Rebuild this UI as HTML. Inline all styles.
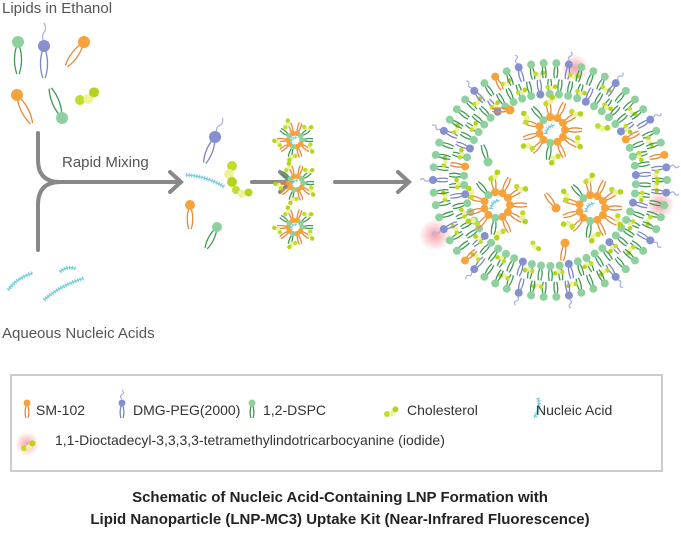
<!DOCTYPE html>
<html><head><meta charset="utf-8"><style>
body{margin:0;width:681px;height:540px;background:#fff;overflow:hidden;font-family:"Liberation Sans",sans-serif}
svg{position:absolute;left:0;top:0}
</style></head><body>
<svg id="s" width="681" height="540" xmlns="http://www.w3.org/2000/svg">
<defs><radialGradient id="glow"><stop offset="0" stop-color="#f48a95" stop-opacity="0.8"/><stop offset="1" stop-color="#f48a95" stop-opacity="0"/></radialGradient></defs>
<g font-family="Liberation Sans, sans-serif" fill="#555" font-size="15">
<text x="2" y="13">Lipids in Ethanol</text>
<text x="62" y="167">Rapid Mixing</text>
<text x="2" y="338">Aqueous Nucleic Acids</text>
</g>
<g fill="none" stroke="#888" stroke-width="4" stroke-linecap="round">
<path d="M38 133 V160 Q38 182 60 182 H180"/>
<path d="M38 250 V205 Q38 182 60 182"/>
<path d="M170 172 L181 182 L170 192"/>
<path d="M252 182 H290 M280 172 L291 182 L280 192"/>
<path d="M335 182 H408 M398 172 L409 182 L398 192"/>
</g>
<rect x="11" y="375" width="651" height="96" fill="#fff" stroke="#ccc" stroke-width="2"/>
<g id="g"></g>
<g font-family="Liberation Sans, sans-serif" fill="#333" font-size="14">
<text x="36" y="415">SM-102</text>
<text x="133" y="415">DMG-PEG(2000)</text>
<text x="263" y="415">1,2-DSPC</text>
<text x="407" y="415">Cholesterol</text>
<text x="536" y="415">Nucleic Acid</text>
<text x="55" y="445">1,1-Dioctadecyl-3,3,3,3-tetramethylindotricarbocyanine (iodide)</text>
</g>
<g font-family="Liberation Sans, sans-serif" fill="#222" font-size="15" font-weight="bold" text-anchor="middle">
<text x="340" y="502">Schematic of Nucleic Acid-Containing LNP Formation with</text>
<text x="340" y="524">Lipid Nanoparticle (LNP-MC3) Uptake Kit (Near-Infrared Fluorescence)</text>
</g>
</svg>
<script>
var g=document.getElementById('g'),out='';
var C={o:['#f7a23a','#e8883a'],b:['#8590cf','#7b86c8'],g:['#8fd19e','#3f9a55']};
function lip(x,y,a,t,L,peg,hr){L=L||20;var c=C[t],dx=Math.cos(a),dy=Math.sin(a),px=-dy,py=dx,w=L*0.2;
var ex=x+dx*L,ey=y+dy*L;
out+='<path d="M'+x+' '+y+' Q'+(x+dx*L*0.5+px*w)+' '+(y+dy*L*0.5+py*w)+' '+(ex+px*1.2)+' '+(ey+py*1.2)+' M'+x+' '+y+' Q'+(x+dx*L*0.5-px*w)+' '+(y+dy*L*0.5-py*w)+' '+(ex-px*1.2)+' '+(ey-py*1.2)+'" fill="none" stroke="'+c[1]+'" stroke-width="1.3"/>';
if(peg){var s=L*0.6;out+='<path d="M'+(x-dx*4)+' '+(y-dy*4)+' q'+(-dx*s/3+px*3)+' '+(-dy*s/3+py*3)+' '+(-dx*s/2)+' '+(-dy*s/2)+' t'+(-dx*s/2)+' '+(-dy*s/2)+'" fill="none" stroke="#a9b0e0" stroke-width="1.2"/>';}
out+='<circle cx="'+x+'" cy="'+y+'" r="'+(hr||(L*0.17+1.5))+'" fill="'+c[0]+'"/>';}
function chol(x,y,a,s){s=s||4;var dx=Math.cos(a),dy=Math.sin(a),cs=['#c2dc2a','#eef29a','#b3d41c'];
for(var i=0;i<3;i++)out+='<circle cx="'+(x+dx*i*s*1.6+(i%2?-dy*s*0.6:0))+'" cy="'+(y+dy*i*s*1.6+(i%2?dx*s*0.6:0))+'" r="'+s+'" fill="'+cs[i]+'"/>';}
function na(x,y,a,L,w){w=w||1;var dx=Math.cos(a),dy=Math.sin(a);var d='M'+x+' '+y+' q'+(dx*L/2+dy*5)+' '+(dy*L/2-dx*5)+' '+(dx*L)+' '+(dy*L);
out+='<path d="'+d+'" fill="none" stroke="#72cdd8" stroke-width="'+(4*w)+'" stroke-dasharray="1 1.6"/><path d="'+d+'" fill="none" stroke="#72cdd8" stroke-width="'+(1.3*w)+'"/>';}
function glow(x,y,r){out+='<circle cx="'+x+'" cy="'+y+'" r="'+r+'" fill="url(#glow)"/>';}
var P=Math.PI;
lip(18,42,P/2,'g',32,0,6);lip(44,46,P/2,'b',32,1,6);lip(84,42,P*0.7,'o',30,0,6);
lip(17,95,P*0.35,'o',32,0,6);lip(62,118,-P*0.62,'g',32,0,6);chol(80,100,-0.5,5);
na(8,290,-0.6,30);na(44,300,-0.5,45);na(60,272,-0.2,16);
lip(215,137,P*0.62,'b',28,1,6);na(186,175,0.3,40);chol(232,166,P/2,5);chol(236,190,0.2,4);
lip(190,205,P/2,'o',24,0,5);lip(217,227,P*0.65,'g',24,0,5);
function small(cx,cy){for(var i=0;i<10;i++){var a=i*2*P/10;var t=i%3==0?'g':'o';lip(cx+Math.cos(a)*7,cy+Math.sin(a)*7,a,t,11,0,2.8);}
for(var i=0;i<5;i++){var a=i*2*P/5+0.3;chol(cx+Math.cos(a)*16,cy+Math.sin(a)*16,a+1,2.2);}na(cx-4,cy+3,-0.7,8,0.7);}
small(295,140);small(296,183);small(295,227);
var cx=550,cy=180;
glow(575,68,14);glow(435,235,16);glow(660,205,14);
var N=58;
for(var i=0;i<N;i++){var a=i*2*P/N;var t=(i%4==1)?'b':(i%17==5?'o':'g');
lip(cx+Math.cos(a)*117,cy+Math.sin(a)*117,a+P,t,15,t=='b',4);
var t2=(i%5==2)?'b':(i%23==7?'o':'g');
lip(cx+Math.cos(a+0.05)*86,cy+Math.sin(a+0.05)*86,a+0.05,t2,15,0,4);
if(i%3==0){chol(cx+Math.cos(a+0.03)*107,cy+Math.sin(a+0.03)*107,a+P/2,2.3);}
if(i%3==1){chol(cx+Math.cos(a+0.03)*93,cy+Math.sin(a+0.03)*93,a+P/2,2.3);}}
function core(x,y){for(var i=0;i<11;i++){var a=i*2*P/11;lip(x+Math.cos(a)*13,y+Math.sin(a)*13,a,i%4==3?'g':'o',17,0,4);}
for(var i=0;i<6;i++){var a=i*2*P/6+0.3;chol(x+Math.cos(a)*27,y+Math.sin(a)*27,a+1,2.8);}na(x-6,y+4,-0.8,12);}
core(552,130);core(497,205);core(592,208);
lip(510,110,P,'o',18,0,4.5);lip(488,162,-P*0.6,'g',18,0,4.5);lip(556,208,-P*0.7,'o',18,0,4.5);lip(565,243,P*0.55,'o',18,0,4.5);
chol(598,126,0.2,3);chol(533,243,0.8,2.5);
lip(27,403,P/2,'o',15,0,3.5);lip(122,403,P/2,'b',15,1,3.5);lip(252,403,P/2,'g',15,0,3.5);chol(387,414,-0.5,3);na(538,398,P/2+0.2,20);
glow(27,444,12);chol(24,448,-0.5,3);
g.innerHTML=out;
</script>
</body></html>
